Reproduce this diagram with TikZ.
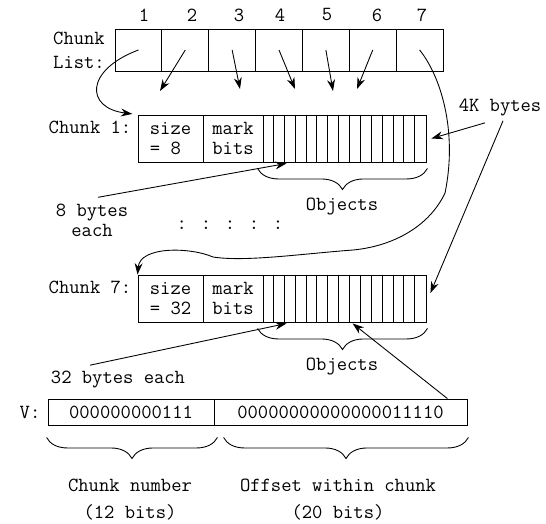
\documentclass[tikz,border=0pt]{standalone}
\usepackage{fontspec}
\usetikzlibrary{arrows.meta,decorations.pathreplacing,calc}
\begin{document}
\begin{tikzpicture}[x=0.02cm,y=-0.02cm,line width=0.5pt,
            font=\ttfamily\fontsize{11.4}{11.5}\selectfont]
            %
            % `listcell' is used for the boxes of the chunk list.
            % `field' is used for the parts of a chunk.
            % `vfield' is used for the two parts of V.
            % `arr' is used for the pointers.
            % `brace' is used for the braces below the boxes.
            \tikzstyle{listcell} = [draw,minimum width=0.937cm,minimum height=0.84cm,inner sep=0pt]
            \tikzstyle{field} = [draw,minimum height=0.94cm,inner sep=0pt]
            \tikzstyle{vfield} = [draw,minimum height=0.52cm,inner sep=0pt]
            \tikzstyle{arr} = [-{Stealth[length=6.5pt,width=4.5pt]}]
            \tikzstyle{brace} = [decorate,decoration={brace,mirror,amplitude=12pt}]
            \useasboundingbox (0,0) rectangle (546,523);
            %
            % Chunk list
            \node (cl1) at (79,38) {Chunk};
            \node (cl2) at (79,62) {List:};
            \foreach \i in {1,...,7}
                \node[listcell] (c\i) at ({115+46.86*(\i-0.5)},50) {};
            \foreach \i/\nx in {1/144,2/192,3/239,4/280,5/327,6/377,7/422}
                \node (n\i) at (\nx,15) {\i};
            \coordinate (e2) at (160,91);
            \coordinate (e3) at (240,89);
            \coordinate (e4) at (295,89);
            \coordinate (e5) at (333,91);
            \coordinate (e6) at (357,89);
            \foreach \i in {2,...,6}
                \draw[arr] (c\i.center) -- (e\i);
            %
            % Chunk 1
            \node (ch1) at (90,127) {Chunk 1:};
            \node[field,minimum width=1.3cm,align=left] (k1s) at (170.5,138.5) {size\\= 8};
            \node[field,minimum width=1.2cm,align=center] (k1m) at (233,138.5) {mark\\bits};
            \node[field,minimum width=3.26cm] (k1o) at (344.5,138.5) {};
            \foreach \j in {1,...,14}
                \draw ($(k1o.north west)+(10.867*\j,0)$) -- ($(k1o.south west)+(10.867*\j,0)$);
            \draw[arr,shorten >=3pt] (c1.center) .. controls (85,70) and (85,108) .. (k1s.north west);
            \draw[brace] ($(k1o.south west)+(-5,6)$) -- ($(k1o.south east)+(1,6)$);
            \node (ob1) at (342,207) {Objects};
            \node[align=center] (eb) at (92,220) {8 bytes\\each};
            \draw[arr] ($(eb.north)+(6,0)$) -- ($(k1o.south west)+(24,1)$);
            %
            % 4K bytes
            \node (kb) at (500,108) {4K bytes};
            \draw[arr] ($(kb.south)+(-15,0)$) -- ($(k1o.east)+(5,0)$);
            %
            % Dots
            \node (dots) at (230,225) {: : : : :};
            %
            % Chunk 7
            \node (ch7) at (90,287) {Chunk 7:};
            \node[field,minimum width=1.3cm,align=left] (k7s) at (170.5,298.5) {size\\= 32};
            \node[field,minimum width=1.2cm,align=center] (k7m) at (233,298.5) {mark\\bits};
            \node[field,minimum width=3.26cm] (k7o) at (344.5,298.5) {};
            \foreach \j in {1,...,14}
                \draw ($(k7o.north west)+(10.867*\j,0)$) -- ($(k7o.south west)+(10.867*\j,0)$);
            \draw[arr] (c7.center) .. controls (440,75) and (458,130) .. (445,193)
                .. controls (430,225) and (395,246) .. (353,250)
                .. controls (300,254) and (245,262) .. (213,257)
                .. controls (190,247) and (140,246) .. (k7s.north west);
            \draw[arr] ($(kb.south)+(3,-2)$) -- ($(k7o.east)+(4,-5.5)$);
            \draw[brace] ($(k7o.south west)+(-5,6)$) -- ($(k7o.south east)+(1,6)$);
            \node (ob7) at (342,367) {Objects};
            \node (tb) at (118,380) {32 bytes each};
            \draw[arr] ($(tb.north)+(-28,0)$) -- ($(k7o.south west)+(24,1)$);
            %
            % V
            \node (vl) at (30,412) {V:};
            \node[vfield,minimum width=3.32cm] (vcn) at (131,412) {000000000111};
            \node[vfield,minimum width=5.06cm] (vof) at (340.5,412) {00000000000000011110};
            \draw[arr] ($(vof.north east)+(-20,0)$) -- ($(k7o.south west)+(90,1)$);
            \draw[brace] ($(vcn.south west)+(-1,12)$) -- ($(vcn.south east)+(3,12)$);
            \draw[brace] ($(vof.south west)+(10,12)$) -- ($(vof.south east)+(1,12)$);
            \node (cn) at (130,485) {Chunk number};
            \node (cnb) at (130,512) {(12 bits)};
            \node (ow) at (338,485) {Offset within chunk};
            \node (owb) at (338,512) {(20 bits)};
        \end{tikzpicture}
\end{document}
